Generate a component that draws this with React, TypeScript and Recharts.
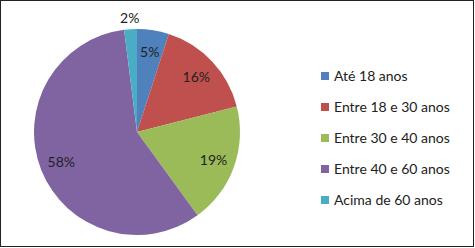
import React from "react";
import { PieChart, Pie, Cell, Legend } from "recharts";

const categories = [
  "Até 18 anos",
  "Entre 18 e 30 anos",
  "Entre 30 e 40 anos",
  "Entre 40 e 60 anos",
  "Acima de 60 anos",
];
const percentages = [5, 16, 19, 58, 2];
const colors = ["#4F81BD", "#C0504D", "#9BBB59", "#8064A2", "#4BACC6"];

const data = categories.map((name, i) => ({ name, value: percentages[i] }));

const RADIAN = Math.PI / 180;
const FONT = "Lato, 'Open Sans', sans-serif";

// rótulos dentro da fatia; fatias pequenas ficam fora (como o "melhor ajuste" do Excel)
const renderLabel = (props: any) => {
  const { cx, cy, midAngle, outerRadius, value } = props;
  const r = value < 3 ? outerRadius + 12 : outerRadius * 0.79;
  const x = cx + r * Math.cos(-midAngle * RADIAN);
  const y = cy + r * Math.sin(-midAngle * RADIAN);
  return (
    <text
      x={x}
      y={y}
      fill="#222"
      fontSize={14}
      fontFamily={FONT}
      textAnchor="middle"
      dominantBaseline="central"
    >
      {`${value}%`}
    </text>
  );
};

// legenda na mesma ordem das categorias
const renderLegend = (props: any) => {
  const payload = [...(props.payload || [])].sort(
    (a: any, b: any) => categories.indexOf(a.value) - categories.indexOf(b.value)
  );
  return (
    <div style={{ fontFamily: FONT, fontSize: 14, color: "#222" }}>
      {payload.map((entry: any, i: number) => (
        <div
          key={i}
          style={{ display: "flex", alignItems: "center", height: 31 }}
        >
          <span
            style={{
              display: "inline-block",
              width: 8,
              height: 8,
              background: entry.color,
              marginRight: 5,
            }}
          />
          <span>{entry.value}</span>
        </div>
      ))}
    </div>
  );
};

export default function App() {
  return (
    <div
      style={{
        position: "absolute",
        left: 0,
        top: 0,
        width: 475,
        height: 248,
        background: "#fff",
      }}
    >
      <div
        style={{
          position: "absolute",
          left: 0,
          top: 0,
          width: 474,
          height: 247,
          border: "1px solid #222",
          boxSizing: "border-box",
        }}
      />
      <PieChart width={475} height={248}>
        <Pie
          data={data}
          dataKey="value"
          nameKey="name"
          cx={132}
          cy={127}
          outerRadius={103}
          startAngle={90}
          endAngle={-270}
          stroke="none"
          label={renderLabel}
          labelLine={false}
          isAnimationActive={false}
        >
          {data.map((d, i) => (
            <Cell key={d.name} fill={colors[i]} />
          ))}
        </Pie>
        <Legend
          layout="vertical"
          content={renderLegend}
          wrapperStyle={{ left: 321, top: 60, width: 150 }}
        />
      </PieChart>
    </div>
  );
}
